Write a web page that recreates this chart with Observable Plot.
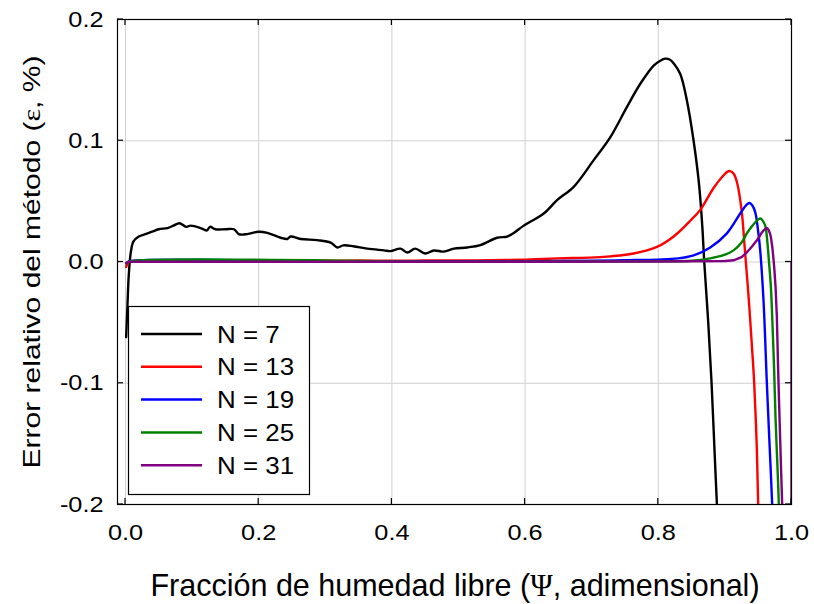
<!DOCTYPE html>
<html>
<head>
<meta charset="utf-8">
<script src="https://cdn.jsdelivr.net/npm/d3@7"></script>
<script src="https://cdn.jsdelivr.net/npm/@observablehq/plot@0.6"></script>
<style>
  html, body { margin: 0; padding: 0; background: #fff; }
  #chart { width: 814px; height: 604px; }
</style>
</head>
<body>
<div id="chart"></div>
<script>
// ---- data ----
const xTicks = [0, 0.2, 0.4, 0.6, 0.8, 1.0];
const yTicks = [-0.2, -0.1, 0, 0.1, 0.2];
const seriesNames = ["N = 7", "N = 13", "N = 19", "N = 25", "N = 31"];
const seriesColors = ["#000000", "#ff0000", "#0000ff", "#008000", "#800080"];

const psi7 = [0.001,0.003,0.005,0.008,0.012,0.020,0.030,0.040,0.050,0.063,0.072,0.081,0.091,0.098,0.113,0.122,0.127,0.135,0.150,0.163,0.170,0.183,0.200,0.213,0.233,0.243,0.248,0.263,0.288,0.308,0.318,0.327,0.342,0.363,0.388,0.398,0.413,0.423,0.435,0.450,0.463,0.478,0.493,0.513,0.533,0.558,0.573,0.583,0.598,0.628,0.648,0.673,0.703,0.728,0.753,0.773,0.793,0.803,0.810,0.817,0.823,0.833,0.843,0.853,0.861,0.866,0.869,0.875,0.880,0.884,0.888,0.892];
const err7 = [-0.062,-0.035,-0.010,0.008,0.017,0.021,0.023,0.025,0.027,0.028,0.030,0.032,0.029,0.030,0.028,0.026,0.029,0.027,0.027,0.027,0.023,0.023,0.025,0.024,0.020,0.019,0.021,0.019,0.018,0.016,0.012,0.0137,0.013,0.011,0.0096,0.009,0.011,0.0078,0.011,0.007,0.0095,0.0086,0.011,0.012,0.014,0.020,0.021,0.024,0.030,0.040,0.051,0.062,0.084,0.103,0.128,0.147,0.162,0.166,0.1677,0.167,0.164,0.155,0.133,0.100,0.065,0.030,0.0,-0.050,-0.100,-0.150,-0.200,-0.240];

const psi13 = [0.001,0.005,0.02,0.05,0.08,0.10,0.15,0.20,0.25,0.30,0.35,0.40,0.45,0.50,0.55,0.60,0.65,0.713,0.763,0.798,0.823,0.848,0.863,0.883,0.898,0.904,0.908,0.913,0.918,0.925,0.930,0.936,0.941,0.944,0.948,0.950,0.952];
const err13 = [-0.004,0.000,0.001,0.0012,0.0015,0.001,0.0015,0.001,0.0012,0.001,0.0013,0.001,0.0012,0.0012,0.0015,0.002,0.003,0.004,0.007,0.0124,0.021,0.034,0.043,0.061,0.0715,0.0745,0.075,0.073,0.066,0.043,0.010,-0.032,-0.073,-0.100,-0.155,-0.200,-0.240];

const psi19 = [0.001,0.005,0.30,0.60,0.70,0.75,0.80,0.83,0.853,0.878,0.903,0.923,0.932,0.937,0.942,0.946,0.950,0.953,0.958,0.963,0.967,0.971,0.973];
const err19 = [-0.001,0.0005,0.0005,0.0006,0.001,0.0015,0.002,0.003,0.0055,0.012,0.0236,0.040,0.047,0.0487,0.046,0.040,0.025,0.0096,-0.032,-0.100,-0.150,-0.200,-0.240];

const psi25 = [0.001,0.005,0.50,0.80,0.85,0.878,0.900,0.913,0.925,0.933,0.940,0.946,0.951,0.954,0.958,0.961,0.964,0.966,0.969,0.971,0.974,0.976,0.979,0.981,0.983];
const err25 = [-0.001,0.0003,0.0003,0.0006,0.001,0.003,0.006,0.0096,0.016,0.0236,0.029,0.033,0.0355,0.0358,0.033,0.029,0.015,0.0014,-0.020,-0.045,-0.090,-0.128,-0.170,-0.200,-0.240];

const psi31 = [0.001,0.005,0.50,0.80,0.900,0.913,0.925,0.933,0.941,0.948,0.952,0.955,0.958,0.960,0.962,0.963,0.964,0.966,0.968,0.969,0.971,0.972,0.974,0.976,0.978,0.980,0.982,0.984,0.986,0.988,1.000,1.000];
const err31 = [-0.001,0.0002,0.0002,0.0004,0.0008,0.0014,0.004,0.008,0.013,0.018,0.021,0.024,0.026,0.027,0.0278,0.028,0.0278,0.026,0.023,0.0206,0.013,0.008,-0.004,-0.020,-0.045,-0.090,-0.128,-0.165,-0.200,-0.300,-0.300,0.0];

const psiSets = [psi7, psi13, psi19, psi25, psi31];
const errSets = [err7, err13, err19, err25, err31];

const rows = [];
psiSets.forEach((xs, s) => xs.forEach((x, i) => rows.push({series: seriesNames[s], psi: x, err: errSets[s][i]})));

// ---- chart ----
const font = "'Liberation Sans', Arial, sans-serif";
const fmt = d => d.toFixed(1);
const chart = Plot.plot({
  width: 814,
  height: 604,
  marginLeft: 117,
  marginRight: 23,
  marginTop: 19,
  marginBottom: 100,
  style: {fontFamily: font, background: "white", color: "black", overflow: "visible"},
  x: {domain: [-0.012, 1.0]},
  y: {domain: [-0.2, 0.2]},
  marks: [
    Plot.gridX(xTicks, {stroke: "#d0d0d0", strokeOpacity: 1, strokeWidth: 1}),
    Plot.gridY(yTicks, {stroke: "#d0d0d0", strokeOpacity: 1, strokeWidth: 1}),
    ...seriesNames.map((name, s) => Plot.line(rows.filter(r => r.series === name), {
      x: "psi", y: "err", stroke: seriesColors[s], strokeWidth: 2.4, clip: true,
      curve: s === 4 ? "linear" : "catmull-rom"
    })),
    Plot.frame({stroke: "black", strokeWidth: 1.2}),
    Plot.axisX(xTicks, {anchor: "bottom", tickSize: 0, tickPadding: 20, tickFormat: fmt, fontSize: 22, label: null}),
    Plot.axisY(yTicks, {anchor: "left", tickSize: 0, tickPadding: 14, tickFormat: fmt, fontSize: 22, label: null})
  ]
});
document.getElementById("chart").appendChild(chart);

(function () {
  const svg = d3.select(chart);
  const sx = chart.scale("x"), sy = chart.scale("y");
  const [x0, x1] = sx.range, [y0, y1] = sy.range;

  // inward tick marks on all four sides
  const tk = svg.append("g").attr("aria-label", "inner ticks").attr("stroke", "black").attr("stroke-width", 1.2);
  xTicks.forEach(v => {
    const px = sx.apply(v);
    tk.append("line").attr("x1", px).attr("x2", px).attr("y1", y0).attr("y2", y0 - 6);
    tk.append("line").attr("x1", px).attr("x2", px).attr("y1", y1).attr("y2", y1 + 6);
  });
  yTicks.forEach(v => {
    const py = sy.apply(v);
    tk.append("line").attr("y1", py).attr("y2", py).attr("x1", x0).attr("x2", x0 + 6);
    tk.append("line").attr("y1", py).attr("y2", py).attr("x1", x1).attr("x2", x1 - 6);
  });

  // stretch tick labels slightly to match the reference's wide digits
  svg.selectAll('g[aria-label="x-axis tick label"] text, g[aria-label="y-axis tick label"] text').each(function () {
    const len = this.getComputedTextLength();
    this.setAttribute("textLength", (len * 1.15).toFixed(1));
    this.setAttribute("lengthAdjust", "spacingAndGlyphs");
  });

  // axis titles
  const xt = svg.append("text")
    .attr("x", 455).attr("y", 596)
    .attr("text-anchor", "middle")
    .attr("font-family", font).attr("font-size", 30.5).attr("fill", "black");
  xt.append("tspan").text("Fracción de humedad libre (");
  xt.append("tspan").attr("font-family", "'Liberation Serif', serif").text("Ψ");
  xt.append("tspan").text(", adimensional)");

  const yt = svg.append("text")
    .attr("transform", "translate(40,262) rotate(-90)")
    .attr("text-anchor", "middle")
    .attr("font-family", font).attr("font-size", 24.5).attr("fill", "black");
  yt.append("tspan").text("Error relativo del método (");
  yt.append("tspan").attr("font-family", "'Liberation Serif', serif").text("ε");
  yt.append("tspan").text(", %)");
  yt.attr("textLength", 413).attr("lengthAdjust", "spacingAndGlyphs");

  // legend
  const lg = svg.append("g").attr("aria-label", "legend");
  lg.append("rect").attr("x", 128.5).attr("y", 306.5).attr("width", 181).attr("height", 188)
    .attr("fill", "white").attr("stroke", "black").attr("stroke-width", 1.2);
  seriesNames.forEach((name, i) => {
    const cy = 334 + i * 32.8;
    lg.append("line").attr("x1", 141).attr("x2", 202).attr("y1", cy).attr("y2", cy)
      .attr("stroke", seriesColors[i]).attr("stroke-width", 2.5);
    const t = lg.append("text").attr("x", 217).attr("y", cy + 8.5)
      .attr("text-anchor", "start")
      .attr("font-family", font).attr("font-size", 24).attr("fill", "black").text(name);
    const len = t.node().getComputedTextLength();
    t.attr("textLength", (len * 1.08).toFixed(1)).attr("lengthAdjust", "spacingAndGlyphs");
  });
})();
</script>
</body>
</html>
